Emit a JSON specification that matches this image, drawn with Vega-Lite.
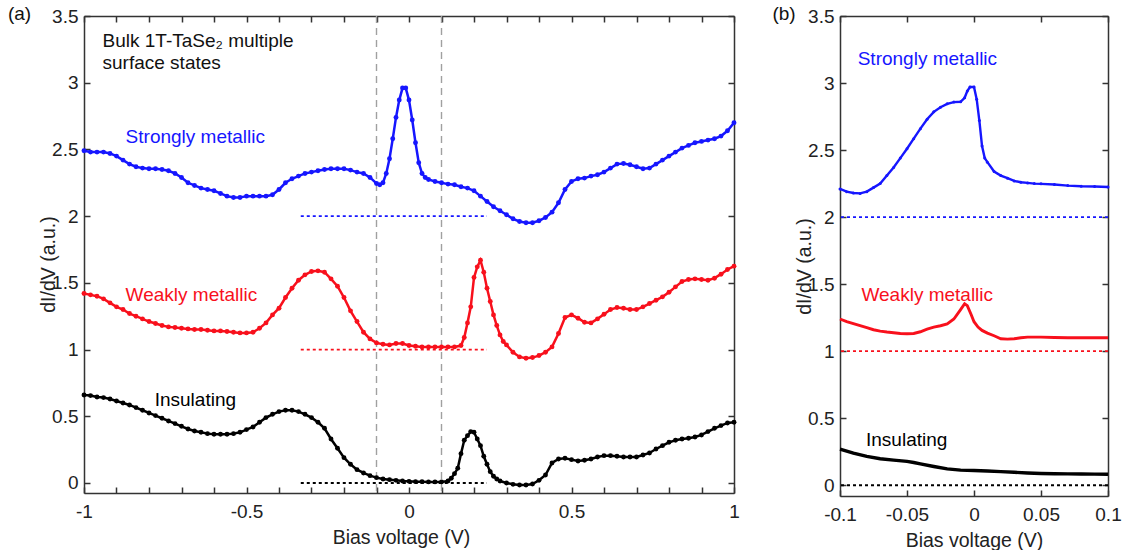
{
"$schema": "https://vega.github.io/schema/vega-lite/v6.json",
"background": "white",
"padding": {"left": 7, "top": 5, "right": 5, "bottom": 0},
"spacing": 32,
"config": {
 "font": "Liberation Sans",
 "view": {"stroke": null},
 "axis": {"grid": false, "domainColor": "#333", "domainWidth": 1.5, "tickColor": "#333", "tickWidth": 1.5, "tickSize": -6, "labelFontSize": 19, "labelColor": "#222", "titleFontSize": 19.5, "titleFontWeight": "normal", "titleColor": "#222", "labelFlush": false, "labelOverlap": false, "labelPadding": 12},
 "axisX": {"labelPadding": 15}
},
"datasets": {
 "a": [
  {"s":"S","x":-1,"y":2.49},{"s":"S","x":-0.98,"y":2.48},{"s":"S","x":-0.96,"y":2.48},{"s":"S","x":-0.94,"y":2.48},{"s":"S","x":-0.92,"y":2.47},{"s":"S","x":-0.9,"y":2.45},{"s":"S","x":-0.88,"y":2.42},{"s":"S","x":-0.86,"y":2.39},{"s":"S","x":-0.84,"y":2.37},{"s":"S","x":-0.82,"y":2.36},{"s":"S","x":-0.8,"y":2.355},{"s":"S","x":-0.78,"y":2.355},{"s":"S","x":-0.76,"y":2.35},{"s":"S","x":-0.74,"y":2.34},{"s":"S","x":-0.72,"y":2.32},{"s":"S","x":-0.7,"y":2.29},{"s":"S","x":-0.68,"y":2.25},{"s":"S","x":-0.66,"y":2.23},{"s":"S","x":-0.64,"y":2.21},{"s":"S","x":-0.62,"y":2.2},{"s":"S","x":-0.6,"y":2.19},{"s":"S","x":-0.58,"y":2.17},{"s":"S","x":-0.56,"y":2.15},{"s":"S","x":-0.54,"y":2.14},{"s":"S","x":-0.52,"y":2.14},{"s":"S","x":-0.5,"y":2.15},{"s":"S","x":-0.48,"y":2.15},{"s":"S","x":-0.46,"y":2.15},{"s":"S","x":-0.44,"y":2.15},{"s":"S","x":-0.42,"y":2.16},{"s":"S","x":-0.4,"y":2.2},{"s":"S","x":-0.38,"y":2.25},{"s":"S","x":-0.36,"y":2.28},{"s":"S","x":-0.34,"y":2.3},{"s":"S","x":-0.32,"y":2.32},{"s":"S","x":-0.3,"y":2.33},{"s":"S","x":-0.28,"y":2.34},{"s":"S","x":-0.26,"y":2.35},{"s":"S","x":-0.24,"y":2.355},{"s":"S","x":-0.22,"y":2.355},{"s":"S","x":-0.2,"y":2.355},{"s":"S","x":-0.18,"y":2.345},{"s":"S","x":-0.16,"y":2.33},{"s":"S","x":-0.14,"y":2.32},{"s":"S","x":-0.12,"y":2.29},{"s":"S","x":-0.1,"y":2.245},{"s":"S","x":-0.09,"y":2.235},{"s":"S","x":-0.08,"y":2.25},{"s":"S","x":-0.07,"y":2.32},{"s":"S","x":-0.06,"y":2.43},{"s":"S","x":-0.05,"y":2.58},{"s":"S","x":-0.04,"y":2.74},{"s":"S","x":-0.03,"y":2.87},{"s":"S","x":-0.02,"y":2.96},{"s":"S","x":-0.01,"y":2.96},{"s":"S","x":0,"y":2.87},{"s":"S","x":0.01,"y":2.72},{"s":"S","x":0.02,"y":2.55},{"s":"S","x":0.03,"y":2.4},{"s":"S","x":0.04,"y":2.32},{"s":"S","x":0.05,"y":2.29},{"s":"S","x":0.06,"y":2.275},{"s":"S","x":0.08,"y":2.26},{"s":"S","x":0.1,"y":2.25},{"s":"S","x":0.12,"y":2.24},{"s":"S","x":0.14,"y":2.235},{"s":"S","x":0.16,"y":2.22},{"s":"S","x":0.18,"y":2.21},{"s":"S","x":0.2,"y":2.19},{"s":"S","x":0.22,"y":2.15},{"s":"S","x":0.24,"y":2.11},{"s":"S","x":0.26,"y":2.07},{"s":"S","x":0.28,"y":2.04},{"s":"S","x":0.3,"y":2.01},{"s":"S","x":0.32,"y":1.98},{"s":"S","x":0.34,"y":1.96},{"s":"S","x":0.36,"y":1.95},{"s":"S","x":0.38,"y":1.95},{"s":"S","x":0.4,"y":1.965},{"s":"S","x":0.42,"y":1.99},{"s":"S","x":0.44,"y":2.03},{"s":"S","x":0.46,"y":2.1},{"s":"S","x":0.48,"y":2.2},{"s":"S","x":0.5,"y":2.26},{"s":"S","x":0.52,"y":2.28},{"s":"S","x":0.54,"y":2.285},{"s":"S","x":0.56,"y":2.3},{"s":"S","x":0.58,"y":2.31},{"s":"S","x":0.6,"y":2.33},{"s":"S","x":0.62,"y":2.36},{"s":"S","x":0.64,"y":2.39},{"s":"S","x":0.66,"y":2.395},{"s":"S","x":0.68,"y":2.385},{"s":"S","x":0.7,"y":2.37},{"s":"S","x":0.72,"y":2.355},{"s":"S","x":0.74,"y":2.36},{"s":"S","x":0.76,"y":2.39},{"s":"S","x":0.78,"y":2.42},{"s":"S","x":0.8,"y":2.45},{"s":"S","x":0.82,"y":2.48},{"s":"S","x":0.84,"y":2.51},{"s":"S","x":0.86,"y":2.53},{"s":"S","x":0.88,"y":2.55},{"s":"S","x":0.9,"y":2.56},{"s":"S","x":0.92,"y":2.57},{"s":"S","x":0.94,"y":2.58},{"s":"S","x":0.96,"y":2.6},{"s":"S","x":0.98,"y":2.64},{"s":"S","x":1,"y":2.7},
  {"s":"W","x":-1,"y":1.42},{"s":"W","x":-0.98,"y":1.41},{"s":"W","x":-0.96,"y":1.4},{"s":"W","x":-0.94,"y":1.38},{"s":"W","x":-0.92,"y":1.35},{"s":"W","x":-0.9,"y":1.32},{"s":"W","x":-0.88,"y":1.3},{"s":"W","x":-0.86,"y":1.27},{"s":"W","x":-0.84,"y":1.25},{"s":"W","x":-0.82,"y":1.23},{"s":"W","x":-0.8,"y":1.21},{"s":"W","x":-0.78,"y":1.195},{"s":"W","x":-0.76,"y":1.18},{"s":"W","x":-0.74,"y":1.17},{"s":"W","x":-0.72,"y":1.165},{"s":"W","x":-0.7,"y":1.16},{"s":"W","x":-0.68,"y":1.155},{"s":"W","x":-0.66,"y":1.15},{"s":"W","x":-0.64,"y":1.15},{"s":"W","x":-0.62,"y":1.145},{"s":"W","x":-0.6,"y":1.14},{"s":"W","x":-0.58,"y":1.14},{"s":"W","x":-0.56,"y":1.135},{"s":"W","x":-0.54,"y":1.13},{"s":"W","x":-0.52,"y":1.125},{"s":"W","x":-0.5,"y":1.125},{"s":"W","x":-0.48,"y":1.13},{"s":"W","x":-0.46,"y":1.16},{"s":"W","x":-0.44,"y":1.2},{"s":"W","x":-0.42,"y":1.26},{"s":"W","x":-0.4,"y":1.31},{"s":"W","x":-0.38,"y":1.39},{"s":"W","x":-0.36,"y":1.46},{"s":"W","x":-0.34,"y":1.52},{"s":"W","x":-0.32,"y":1.56},{"s":"W","x":-0.3,"y":1.585},{"s":"W","x":-0.28,"y":1.59},{"s":"W","x":-0.26,"y":1.58},{"s":"W","x":-0.24,"y":1.53},{"s":"W","x":-0.22,"y":1.475},{"s":"W","x":-0.2,"y":1.39},{"s":"W","x":-0.18,"y":1.29},{"s":"W","x":-0.16,"y":1.21},{"s":"W","x":-0.14,"y":1.13},{"s":"W","x":-0.12,"y":1.08},{"s":"W","x":-0.1,"y":1.05},{"s":"W","x":-0.08,"y":1.04},{"s":"W","x":-0.06,"y":1.035},{"s":"W","x":-0.04,"y":1.045},{"s":"W","x":-0.02,"y":1.045},{"s":"W","x":0,"y":1.03},{"s":"W","x":0.02,"y":1.025},{"s":"W","x":0.04,"y":1.02},{"s":"W","x":0.06,"y":1.02},{"s":"W","x":0.08,"y":1.02},{"s":"W","x":0.1,"y":1.02},{"s":"W","x":0.12,"y":1.02},{"s":"W","x":0.14,"y":1.02},{"s":"W","x":0.16,"y":1.03},{"s":"W","x":0.17,"y":1.09},{"s":"W","x":0.18,"y":1.2},{"s":"W","x":0.19,"y":1.32},{"s":"W","x":0.2,"y":1.54},{"s":"W","x":0.21,"y":1.62},{"s":"W","x":0.22,"y":1.67},{"s":"W","x":0.23,"y":1.58},{"s":"W","x":0.24,"y":1.46},{"s":"W","x":0.25,"y":1.36},{"s":"W","x":0.26,"y":1.26},{"s":"W","x":0.27,"y":1.18},{"s":"W","x":0.28,"y":1.11},{"s":"W","x":0.29,"y":1.06},{"s":"W","x":0.3,"y":1.035},{"s":"W","x":0.32,"y":0.98},{"s":"W","x":0.34,"y":0.945},{"s":"W","x":0.36,"y":0.935},{"s":"W","x":0.38,"y":0.94},{"s":"W","x":0.4,"y":0.955},{"s":"W","x":0.42,"y":0.98},{"s":"W","x":0.44,"y":1.02},{"s":"W","x":0.46,"y":1.12},{"s":"W","x":0.48,"y":1.24},{"s":"W","x":0.5,"y":1.26},{"s":"W","x":0.52,"y":1.235},{"s":"W","x":0.54,"y":1.205},{"s":"W","x":0.56,"y":1.2},{"s":"W","x":0.58,"y":1.23},{"s":"W","x":0.6,"y":1.265},{"s":"W","x":0.62,"y":1.3},{"s":"W","x":0.64,"y":1.315},{"s":"W","x":0.66,"y":1.31},{"s":"W","x":0.68,"y":1.3},{"s":"W","x":0.7,"y":1.3},{"s":"W","x":0.72,"y":1.32},{"s":"W","x":0.74,"y":1.345},{"s":"W","x":0.76,"y":1.37},{"s":"W","x":0.78,"y":1.395},{"s":"W","x":0.8,"y":1.43},{"s":"W","x":0.82,"y":1.47},{"s":"W","x":0.84,"y":1.51},{"s":"W","x":0.86,"y":1.525},{"s":"W","x":0.88,"y":1.53},{"s":"W","x":0.9,"y":1.525},{"s":"W","x":0.92,"y":1.52},{"s":"W","x":0.94,"y":1.535},{"s":"W","x":0.96,"y":1.565},{"s":"W","x":0.98,"y":1.6},{"s":"W","x":1,"y":1.625},
  {"s":"I","x":-1,"y":0.66},{"s":"I","x":-0.98,"y":0.655},{"s":"I","x":-0.96,"y":0.645},{"s":"I","x":-0.94,"y":0.64},{"s":"I","x":-0.92,"y":0.63},{"s":"I","x":-0.9,"y":0.615},{"s":"I","x":-0.88,"y":0.6},{"s":"I","x":-0.86,"y":0.585},{"s":"I","x":-0.84,"y":0.565},{"s":"I","x":-0.82,"y":0.545},{"s":"I","x":-0.8,"y":0.525},{"s":"I","x":-0.78,"y":0.505},{"s":"I","x":-0.76,"y":0.485},{"s":"I","x":-0.74,"y":0.465},{"s":"I","x":-0.72,"y":0.445},{"s":"I","x":-0.7,"y":0.425},{"s":"I","x":-0.68,"y":0.405},{"s":"I","x":-0.66,"y":0.39},{"s":"I","x":-0.64,"y":0.38},{"s":"I","x":-0.62,"y":0.37},{"s":"I","x":-0.6,"y":0.365},{"s":"I","x":-0.58,"y":0.365},{"s":"I","x":-0.56,"y":0.365},{"s":"I","x":-0.54,"y":0.37},{"s":"I","x":-0.52,"y":0.38},{"s":"I","x":-0.5,"y":0.4},{"s":"I","x":-0.48,"y":0.42},{"s":"I","x":-0.46,"y":0.455},{"s":"I","x":-0.44,"y":0.49},{"s":"I","x":-0.42,"y":0.515},{"s":"I","x":-0.4,"y":0.535},{"s":"I","x":-0.38,"y":0.545},{"s":"I","x":-0.36,"y":0.545},{"s":"I","x":-0.34,"y":0.535},{"s":"I","x":-0.32,"y":0.515},{"s":"I","x":-0.3,"y":0.49},{"s":"I","x":-0.28,"y":0.455},{"s":"I","x":-0.26,"y":0.41},{"s":"I","x":-0.24,"y":0.33},{"s":"I","x":-0.22,"y":0.26},{"s":"I","x":-0.2,"y":0.19},{"s":"I","x":-0.18,"y":0.14},{"s":"I","x":-0.16,"y":0.1},{"s":"I","x":-0.14,"y":0.075},{"s":"I","x":-0.12,"y":0.055},{"s":"I","x":-0.1,"y":0.04},{"s":"I","x":-0.08,"y":0.03},{"s":"I","x":-0.06,"y":0.025},{"s":"I","x":-0.04,"y":0.02},{"s":"I","x":-0.02,"y":0.015},{"s":"I","x":0,"y":0.0125},{"s":"I","x":0.02,"y":0.01},{"s":"I","x":0.04,"y":0.01},{"s":"I","x":0.06,"y":0.008},{"s":"I","x":0.08,"y":0.008},{"s":"I","x":0.1,"y":0.008},{"s":"I","x":0.12,"y":0.015},{"s":"I","x":0.13,"y":0.035},{"s":"I","x":0.14,"y":0.07},{"s":"I","x":0.15,"y":0.11},{"s":"I","x":0.16,"y":0.22},{"s":"I","x":0.17,"y":0.32},{"s":"I","x":0.18,"y":0.355},{"s":"I","x":0.19,"y":0.385},{"s":"I","x":0.2,"y":0.38},{"s":"I","x":0.21,"y":0.33},{"s":"I","x":0.22,"y":0.28},{"s":"I","x":0.23,"y":0.2},{"s":"I","x":0.24,"y":0.14},{"s":"I","x":0.25,"y":0.085},{"s":"I","x":0.26,"y":0.05},{"s":"I","x":0.27,"y":0.03},{"s":"I","x":0.28,"y":0.015},{"s":"I","x":0.3,"y":0.0},{"s":"I","x":0.32,"y":-0.01},{"s":"I","x":0.34,"y":-0.015},{"s":"I","x":0.36,"y":-0.015},{"s":"I","x":0.38,"y":-0.008},{"s":"I","x":0.4,"y":0.02},{"s":"I","x":0.42,"y":0.06},{"s":"I","x":0.44,"y":0.15},{"s":"I","x":0.46,"y":0.18},{"s":"I","x":0.48,"y":0.185},{"s":"I","x":0.5,"y":0.175},{"s":"I","x":0.52,"y":0.165},{"s":"I","x":0.54,"y":0.17},{"s":"I","x":0.56,"y":0.18},{"s":"I","x":0.58,"y":0.195},{"s":"I","x":0.6,"y":0.205},{"s":"I","x":0.62,"y":0.205},{"s":"I","x":0.64,"y":0.2},{"s":"I","x":0.66,"y":0.195},{"s":"I","x":0.68,"y":0.195},{"s":"I","x":0.7,"y":0.195},{"s":"I","x":0.72,"y":0.21},{"s":"I","x":0.74,"y":0.225},{"s":"I","x":0.76,"y":0.255},{"s":"I","x":0.78,"y":0.28},{"s":"I","x":0.8,"y":0.305},{"s":"I","x":0.82,"y":0.32},{"s":"I","x":0.84,"y":0.33},{"s":"I","x":0.86,"y":0.335},{"s":"I","x":0.88,"y":0.345},{"s":"I","x":0.9,"y":0.36},{"s":"I","x":0.92,"y":0.385},{"s":"I","x":0.94,"y":0.41},{"s":"I","x":0.96,"y":0.43},{"s":"I","x":0.98,"y":0.45},{"s":"I","x":1,"y":0.455}
 ],
 "b": [
  {"s":"S","x":-0.1,"y":2.21},{"s":"S","x":-0.095,"y":2.19},{"s":"S","x":-0.09,"y":2.18},{"s":"S","x":-0.085,"y":2.177},{"s":"S","x":-0.08,"y":2.19},{"s":"S","x":-0.075,"y":2.22},{"s":"S","x":-0.07,"y":2.25},{"s":"S","x":-0.065,"y":2.31},{"s":"S","x":-0.06,"y":2.37},{"s":"S","x":-0.055,"y":2.44},{"s":"S","x":-0.05,"y":2.51},{"s":"S","x":-0.045,"y":2.585},{"s":"S","x":-0.04,"y":2.66},{"s":"S","x":-0.035,"y":2.73},{"s":"S","x":-0.03,"y":2.785},{"s":"S","x":-0.025,"y":2.82},{"s":"S","x":-0.02,"y":2.845},{"s":"S","x":-0.015,"y":2.858},{"s":"S","x":-0.01,"y":2.86},{"s":"S","x":-0.007,"y":2.89},{"s":"S","x":-0.005,"y":2.94},{"s":"S","x":-0.003,"y":2.97},{"s":"S","x":0,"y":2.97},{"s":"S","x":0.002,"y":2.88},{"s":"S","x":0.004,"y":2.72},{"s":"S","x":0.006,"y":2.53},{"s":"S","x":0.008,"y":2.44},{"s":"S","x":0.01,"y":2.41},{"s":"S","x":0.015,"y":2.34},{"s":"S","x":0.02,"y":2.31},{"s":"S","x":0.025,"y":2.29},{"s":"S","x":0.03,"y":2.27},{"s":"S","x":0.035,"y":2.26},{"s":"S","x":0.04,"y":2.255},{"s":"S","x":0.045,"y":2.25},{"s":"S","x":0.05,"y":2.248},{"s":"S","x":0.06,"y":2.243},{"s":"S","x":0.07,"y":2.235},{"s":"S","x":0.08,"y":2.23},{"s":"S","x":0.09,"y":2.228},{"s":"S","x":0.1,"y":2.225},
  {"s":"W","x":-0.1,"y":1.24},{"s":"W","x":-0.095,"y":1.22},{"s":"W","x":-0.09,"y":1.205},{"s":"W","x":-0.085,"y":1.19},{"s":"W","x":-0.08,"y":1.175},{"s":"W","x":-0.075,"y":1.16},{"s":"W","x":-0.07,"y":1.15},{"s":"W","x":-0.065,"y":1.143},{"s":"W","x":-0.06,"y":1.138},{"s":"W","x":-0.055,"y":1.132},{"s":"W","x":-0.05,"y":1.13},{"s":"W","x":-0.045,"y":1.132},{"s":"W","x":-0.04,"y":1.145},{"s":"W","x":-0.035,"y":1.165},{"s":"W","x":-0.03,"y":1.18},{"s":"W","x":-0.025,"y":1.19},{"s":"W","x":-0.02,"y":1.203},{"s":"W","x":-0.015,"y":1.24},{"s":"W","x":-0.01,"y":1.31},{"s":"W","x":-0.007,"y":1.354},{"s":"W","x":-0.005,"y":1.34},{"s":"W","x":-0.002,"y":1.27},{"s":"W","x":0,"y":1.22},{"s":"W","x":0.003,"y":1.18},{"s":"W","x":0.006,"y":1.155},{"s":"W","x":0.01,"y":1.135},{"s":"W","x":0.015,"y":1.115},{"s":"W","x":0.02,"y":1.093},{"s":"W","x":0.025,"y":1.09},{"s":"W","x":0.03,"y":1.093},{"s":"W","x":0.035,"y":1.1},{"s":"W","x":0.04,"y":1.105},{"s":"W","x":0.05,"y":1.105},{"s":"W","x":0.06,"y":1.102},{"s":"W","x":0.07,"y":1.1},{"s":"W","x":0.08,"y":1.1},{"s":"W","x":0.09,"y":1.1},{"s":"W","x":0.1,"y":1.1},
  {"s":"I","x":-0.1,"y":0.27},{"s":"I","x":-0.09,"y":0.24},{"s":"I","x":-0.08,"y":0.215},{"s":"I","x":-0.07,"y":0.198},{"s":"I","x":-0.06,"y":0.188},{"s":"I","x":-0.05,"y":0.178},{"s":"I","x":-0.045,"y":0.17},{"s":"I","x":-0.04,"y":0.16},{"s":"I","x":-0.03,"y":0.14},{"s":"I","x":-0.02,"y":0.122},{"s":"I","x":-0.01,"y":0.113},{"s":"I","x":0,"y":0.11},{"s":"I","x":0.01,"y":0.106},{"s":"I","x":0.02,"y":0.102},{"s":"I","x":0.03,"y":0.097},{"s":"I","x":0.04,"y":0.092},{"s":"I","x":0.05,"y":0.088},{"s":"I","x":0.06,"y":0.086},{"s":"I","x":0.07,"y":0.085},{"s":"I","x":0.08,"y":0.084},{"s":"I","x":0.09,"y":0.083},{"s":"I","x":0.1,"y":0.082}
 ],
 "refa": [{"s":"S","x1":-0.333,"x2":0.24,"y":2},{"s":"W","x1":-0.333,"x2":0.24,"y":1},{"s":"I","x1":-0.333,"x2":0.24,"y":0}],
 "refb": [{"s":"S","y":2},{"s":"W","y":1},{"s":"I","y":0}],
 "vlines": [{"x":-0.1},{"x":0.1}],
 "ta": [
  {"s":"K","t":"(a)","x":-1.234,"y":3.47},
  {"s":"K","t":"Bulk 1T-TaSe₂ multiple","x":-0.943,"y":3.265},
  {"s":"K","t":"surface states","x":-0.943,"y":3.1},
  {"s":"S","t":"Strongly metallic","x":-0.872,"y":2.545},
  {"s":"W","t":"Weakly metallic","x":-0.872,"y":1.362},
  {"s":"I","t":"Insulating","x":-0.7825,"y":0.58}
 ],
 "tb": [
  {"s":"K","t":"(b)","x":-0.1504,"y":3.47},
  {"s":"S","t":"Strongly metallic","x":-0.0868,"y":3.137},
  {"s":"W","t":"Weakly metallic","x":-0.084,"y":1.375},
  {"s":"I","t":"Insulating","x":-0.0806,"y":0.293}
 ]
},
"hconcat": [
 {
  "width": 650, "height": 477,
  "resolve": {"axis": {"x": "independent", "y": "independent"}},
  "layer": [
   {
    "data": {"name": "vlines"},
    "mark": {"type": "rule", "color": "#a0a0a0", "strokeDash": [7, 5], "strokeWidth": 1.4},
    "encoding": {"x": {"field": "x", "type": "quantitative", "scale": {"domain": [-1, 1], "nice": false, "zero": false}, "axis": null}}
   },
   {
    "data": {"name": "refa"},
    "mark": {"type": "rule", "strokeDash": [3, 3], "strokeWidth": 1.8},
    "encoding": {
     "x": {"field": "x1", "type": "quantitative", "scale": {"domain": [-1, 1], "nice": false, "zero": false}, "axis": {"orient": "top", "labels": false, "title": null, "values": [-1,-0.9,-0.8,-0.7,-0.6,-0.5,-0.4,-0.3,-0.2,-0.1,0,0.1,0.2,0.3,0.4,0.5,0.6,0.7,0.8,0.9,1]}},
     "x2": {"field": "x2"},
     "y": {"field": "y", "type": "quantitative", "scale": {"domain": [-0.075, 3.5], "nice": false, "zero": false}, "axis": {"orient": "right", "labels": false, "title": null, "values": [0,0.5,1,1.5,2,2.5,3,3.5]}},
     "color": {"field": "s", "type": "nominal", "scale": {"domain": ["S","W","I","K"], "range": ["#1616ff","#f8101c","#000000","#111111"]}, "legend": null}
    }
   },
   {
    "data": {"name": "a"},
    "mark": {"type": "line", "strokeWidth": 2.5, "point": {"filled": true, "size": 24}},
    "encoding": {
     "x": {"field": "x", "type": "quantitative", "scale": {"domain": [-1, 1], "nice": false, "zero": false}, "axis": {"orient": "bottom", "title": "Bias voltage (V)", "titlePadding": 7, "titleX": 317, "values": [-1,-0.9,-0.8,-0.7,-0.6,-0.5,-0.4,-0.3,-0.2,-0.1,0,0.1,0.2,0.3,0.4,0.5,0.6,0.7,0.8,0.9,1], "labelExpr": "abs(datum.value*2 - round(datum.value*2)) < 0.001 ? '' + datum.value : ''"}},
     "y": {"field": "y", "type": "quantitative", "scale": {"domain": [-0.075, 3.5], "nice": false, "zero": false}, "axis": {"orient": "left", "title": "dI/dV (a.u.)", "values": [0,0.5,1,1.5,2,2.5,3,3.5], "labelExpr": "'' + datum.value", "titleAngle": 270, "titleBaseline": "middle", "titleX": -36, "titleY": 248}},
     "color": {"field": "s", "type": "nominal", "legend": null},
     "detail": {"field": "s"}
    }
   },
   {
    "data": {"name": "ta"},
    "mark": {"type": "text", "align": "left", "baseline": "alphabetic", "fontSize": 19},
    "encoding": {
     "x": {"field": "x", "type": "quantitative", "axis": null},
     "y": {"field": "y", "type": "quantitative", "axis": null},
     "text": {"field": "t"},
     "color": {"field": "s", "type": "nominal", "legend": null}
    }
   }
  ]
 },
 {
  "width": 268, "height": 480,
  "resolve": {"axis": {"x": "independent", "y": "independent"}},
  "layer": [
   {
    "data": {"name": "refb"},
    "mark": {"type": "rule", "strokeDash": [3, 3], "strokeWidth": 1.8},
    "encoding": {
     "y": {"field": "y", "type": "quantitative", "scale": {"domain": [-0.08, 3.5], "nice": false, "zero": false}, "axis": {"orient": "right", "labels": false, "title": null, "values": [0,0.5,1,1.5,2,2.5,3,3.5]}},
     "color": {"field": "s", "type": "nominal", "scale": {"domain": ["S","W","I","K"], "range": ["#1616ff","#f8101c","#000000","#111111"]}, "legend": null}
    }
   },
   {
    "data": {"name": "b"},
    "mark": {"type": "line"},
    "encoding": {
     "x": {"field": "x", "type": "quantitative", "scale": {"domain": [-0.1, 0.1], "nice": false, "zero": false}, "axis": {"orient": "bottom", "title": "Bias voltage (V)", "titlePadding": 7, "values": [-0.1,-0.05,0,0.05,0.1], "labelExpr": "'' + datum.value"}},
     "y": {"field": "y", "type": "quantitative", "scale": {"domain": [-0.08, 3.5], "nice": false, "zero": false}, "axis": {"orient": "left", "title": "dI/dV (a.u.)", "values": [0,0.5,1,1.5,2,2.5,3,3.5], "labelExpr": "'' + datum.value", "titleAngle": 270, "titleBaseline": "middle", "titleX": -36, "titleY": 250}},
     "color": {"field": "s", "type": "nominal", "legend": null},
     "strokeWidth": {"field": "s", "type": "nominal", "scale": {"domain": ["S","W","I"], "range": [2.4, 3.4, 3.4]}, "legend": null}
    }
   },
   {
    "data": {"name": "b"},
    "transform": [{"filter": "datum.s == 'S'"}],
    "mark": {"type": "point", "filled": true, "size": 9, "opacity": 1},
    "encoding": {
     "x": {"field": "x", "type": "quantitative", "axis": {"orient": "top", "labels": false, "title": null, "values": [-0.1,-0.05,0,0.05,0.1]}},
     "y": {"field": "y", "type": "quantitative", "axis": null},
     "color": {"field": "s", "type": "nominal", "legend": null}
    }
   },
   {
    "data": {"name": "tb"},
    "mark": {"type": "text", "align": "left", "baseline": "alphabetic", "fontSize": 19},
    "encoding": {
     "x": {"field": "x", "type": "quantitative", "axis": null},
     "y": {"field": "y", "type": "quantitative", "axis": null},
     "text": {"field": "t"},
     "color": {"field": "s", "type": "nominal", "legend": null}
    }
   }
  ]
 }
]
}
